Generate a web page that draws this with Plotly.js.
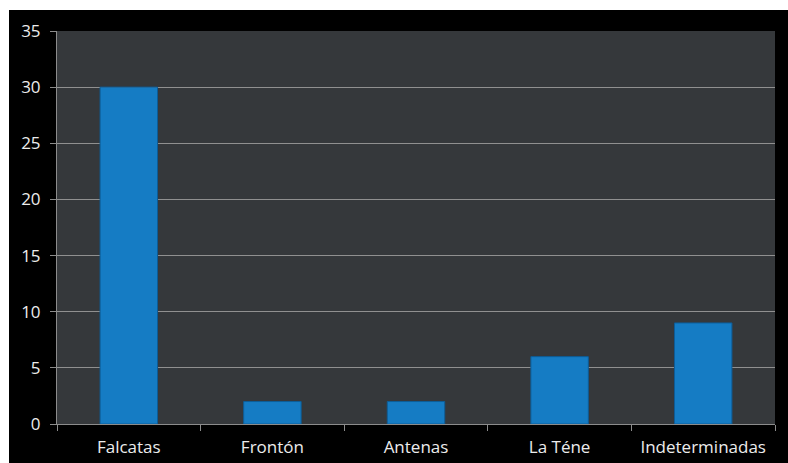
<!DOCTYPE html>
<html>
<head>
<meta charset="utf-8">
<script src="https://cdn.plot.ly/plotly-3.0.1.min.js"></script>
<style>
html,body{margin:0;padding:0;background:#ffffff;overflow:hidden;}
#chart{position:absolute;left:9px;top:10px;width:779px;height:453px;}
</style>
</head>
<body>
<div id="chart"></div>
<script>
const categories = ["Falcatas", "Frontón", "Antenas", "La Téne", "Indeterminadas"];
const values = [30, 2, 2, 6, 9];
const yTicks = [0, 5, 10, 15, 20, 25, 30, 35];

const trace = {
  type: "bar",
  x: categories,
  y: values,
  marker: {
    color: "#157cc4",
    line: {color: "#0d5d98", width: 1}
  },
  hoverinfo: "x+y"
};

const layout = {
  width: 779,
  height: 453,
  margin: {l: 48, r: 13, t: 21, b: 39},
  paper_bgcolor: "#000000",
  plot_bgcolor: "#35383b",
  bargap: 0.6,
  showlegend: false,
  font: {family: "'Open Sans', sans-serif", size: 15, color: "#ececec"},
  xaxis: {
    type: "category",
    showgrid: false,
    showline: true,
    linecolor: "#8c8c8c",
    linewidth: 1,
    ticks: "outside",
    tickson: "boundaries",
    ticklen: 6,
    tickcolor: "#8c8c8c",
    ticklabelstandoff: 8,
    tickfont: {size: 17, color: "#ececec"},
    fixedrange: true
  },
  yaxis: {
    range: [0, 35],
    tickvals: yTicks,
    ticktext: yTicks.map(String),
    showgrid: true,
    gridcolor: "#909090",
    gridwidth: 1,
    showline: true,
    linecolor: "#8c8c8c",
    linewidth: 1,
    zeroline: false,
    ticks: "outside",
    ticklen: 6,
    tickcolor: "#8c8c8c",
    ticklabelstandoff: 6,
    tickfont: {size: 17, color: "#ececec"},
    fixedrange: true
  }
};

Plotly.newPlot("chart", [trace], layout, {displayModeBar: false, staticPlot: true});
</script>
</body>
</html>
